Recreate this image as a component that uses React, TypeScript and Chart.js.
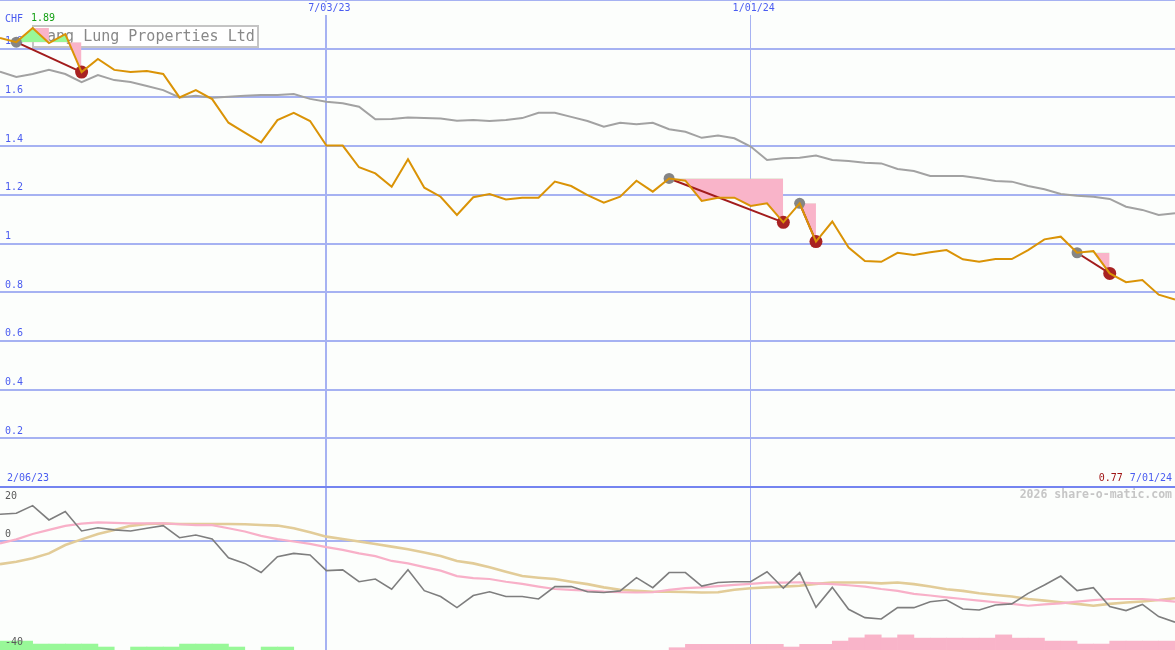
import React, { useEffect, useRef } from "react";
import { Chart, registerables } from "chart.js";

Chart.register(...registerables);

// ---------- data ----------
const PRICE = [
  1.844, 1.827, 1.885, 1.823, 1.86, 1.704, 1.758, 1.713, 1.704, 1.708,
  1.696, 1.6, 1.63, 1.593, 1.496, 1.455, 1.415, 1.507, 1.537, 1.503,
  1.402, 1.402, 1.313, 1.288, 1.233, 1.346, 1.229, 1.192, 1.117, 1.19,
  1.203, 1.181, 1.188, 1.188, 1.254, 1.236, 1.199, 1.168, 1.192, 1.258,
  1.213, 1.267, 1.258, 1.175, 1.188, 1.188, 1.154, 1.165, 1.087, 1.165,
  1.008, 1.09, 0.983, 0.928, 0.925, 0.962, 0.953, 0.964, 0.973, 0.935,
  0.925, 0.936, 0.936, 0.973, 1.017, 1.028, 0.962, 0.969, 0.877, 0.841,
  0.85, 0.79, 0.77,
];

const BENCH = [
  1.706, 1.684, 1.696, 1.713, 1.696, 1.663, 1.692, 1.671, 1.663, 1.647,
  1.63, 1.6, 1.607, 1.599, 1.603, 1.607, 1.61, 1.61, 1.614, 1.594,
  1.582, 1.576, 1.562, 1.51, 1.511, 1.517, 1.515, 1.513, 1.504, 1.507,
  1.503, 1.507, 1.515, 1.537, 1.537, 1.52, 1.503, 1.48, 1.496, 1.49,
  1.496, 1.469, 1.459, 1.434, 1.443, 1.432, 1.398, 1.343, 1.35, 1.352,
  1.361, 1.343, 1.339, 1.332, 1.329, 1.306, 1.298, 1.277, 1.277, 1.277,
  1.268, 1.257, 1.254, 1.236, 1.223, 1.203, 1.196, 1.192, 1.183, 1.151,
  1.138, 1.117, 1.124,
];

const MOM = [
  9.9, 10.3, 13.1, 7.8, 10.9, 3.7, 4.9, 4.1, 3.7, 4.7,
  5.7, 1.2, 2.2, 0.7, -6.2, -8.3, -11.7, -5.8, -4.6, -5.2,
  -11.0, -10.7, -15.1, -14.1, -17.9, -10.7, -18.4, -20.6, -24.7, -20.2,
  -18.8, -20.6, -20.6, -21.5, -16.9, -16.9, -18.8, -19.1, -18.5, -13.6,
  -17.3, -11.7, -11.7, -16.7, -15.4, -15.1, -15.1, -11.4, -17.5, -11.7,
  -24.6, -17.2, -25.3, -28.4, -28.9, -24.7, -24.7, -22.5, -21.9, -25.2,
  -25.6, -23.7, -23.3, -19.4, -16.3, -13.0, -18.4, -17.3, -24.3, -25.8,
  -23.5, -28.0, -30.1,
];

const MOM_FAST = [
  -0.9, 0.6, 2.6, 4.1, 5.6, 6.4, 6.9, 6.7, 6.5, 6.5,
  6.5, 6.2, 5.9, 5.9, 4.7, 3.5, 1.9, 0.7, -0.2, -1.1,
  -2.3, -3.3, -4.6, -5.6, -7.4, -8.3, -9.7, -11.0, -13.0, -13.8,
  -14.1, -15.1, -15.9, -16.9, -17.8, -18.1, -18.4, -18.8, -19.0, -19.1,
  -19.0, -18.1, -17.5, -17.2, -16.7, -16.3, -15.9, -15.4, -15.4, -15.3,
  -15.7, -16.0, -16.4, -16.9, -17.8, -18.5, -19.6, -20.2, -20.9, -21.5,
  -22.1, -22.7, -23.3, -24.0, -23.5, -23.1, -22.5, -21.9, -21.5, -21.5,
  -21.5, -21.9, -22.5,
];

const MOM_SLOW = [
  -8.6, -7.7, -6.4, -4.6, -1.5, 0.6, 2.6, 4.1, 5.6, 6.3,
  6.5, 6.3, 6.3, 6.3, 6.3, 6.2, 5.9, 5.7, 4.7, 3.2,
  1.6, 0.7, -0.2, -1.1, -2.1, -3.1, -4.3, -5.6, -7.4, -8.3,
  -9.7, -11.4, -13.0, -13.6, -14.1, -15.1, -16.0, -17.2, -18.1, -18.5,
  -18.8, -18.8, -18.9, -19.1, -19.0, -18.1, -17.5, -17.2, -16.9, -16.6,
  -15.9, -15.4, -15.4, -15.4, -15.7, -15.4, -16.0, -16.9, -17.9, -18.5,
  -19.4, -20.0, -20.6, -21.5, -22.1, -22.7, -23.3, -24.0, -23.3, -22.8,
  -22.4, -21.9, -21.2,
];

// weekly bars (bar k spans week k .. k+1)
const GREEN_BARS = [
  3.3, 3.3, 2.2, 2.2, 2.2, 2.2, 1.1, 0, 1.1, 1.1,
  1.1, 2.2, 2.2, 2.2, 1.1, 0, 1.1, 1.1,
];
const PINK_BARS = [
  0, 0, 0, 0, 0, 0, 0, 0, 0, 0,
  0, 0, 0, 0, 0, 0, 0, 0, 0, 0,
  0, 0, 0, 0, 0, 0, 0, 0, 0, 0,
  0, 0, 0, 0, 0, 0, 0, 0, 0, 0,
  0, 0.85, 2.1, 2.1, 2.1, 2.1, 2.1, 2.1, 1.1, 2.1,
  2.1, 3.3, 4.5, 5.6, 4.5, 5.6, 4.4, 4.4, 4.4, 4.4,
  4.4, 5.6, 4.4, 4.4, 3.3, 3.3, 2.2, 2.2, 3.3, 3.3,
  3.3, 3.3,
];

// signal events: [start week, end week]
const EVENTS: [number, number][] = [
  [1, 5],
  [41, 48],
  [49, 50],
  [66, 68],
];
const DRAWDOWN: [number, number] = [2, 3];

const TOP_TICKS = [0, 0.2, 0.4, 0.6, 0.8, 1, 1.2, 1.4, 1.6, 1.8, 2];
const BOTTOM_TICKS = [-40, 0, 20];
const BOTTOM_MIN = -40.4;
const BOTTOM_MAX = 20;
const X_MARKS = [20, 46];
const X_MARK_LABELS = ["7/03/23", "1/01/24"];
const X_MAX = 72;
const START_LABEL = "2/06/23";
const END_LABEL = "7/01/24";
const LAST_PRICE = "0.77";
const HIGH_LABEL = "1.89";
const CURRENCY = "CHF";
const TITLE = "Hang Lung Properties Ltd";
const WATERMARK = "2026 share-o-matic.com";

// ---------- styles ----------
const W = 1175;
const H = 650;
const BG = "#fcfefc";
const GRID = "#a6b2f2";
const SEP = "#7484f0";
const BLUE_TEXT = "#4a5cf0";
const ORANGE = "#da9306";
const BENCH_GRAY = "#a2a2a2";
const TREND_RED = "#a21c1c";
const DOT_RED = "#a82222";
const DOT_GRAY = "#858585";
const FILL_GREEN = "#98f898";
const FILL_PINK = "#f9b4c9";
const MOM_GRAY = "#7e7e7e";
const MOM_PINK = "#f8b0c8";
const MOM_TAN = "#e2cc98";
const MONO = "'DejaVu Sans Mono', 'Liberation Mono', monospace";

const range = (a: number, b: number) => {
  const r: number[] = [];
  for (let i = a; i <= b; i++) r.push(i);
  return r;
};
const pts = (arr: number[]) => arr.map((y, i) => ({ x: i, y }));

function buildDatasets() {
  const ds: any[] = [];
  const hidden = { borderColor: "transparent", borderWidth: 0, pointRadius: 0 };

  ds.push({
    type: "line",
    data: pts(PRICE),
    yAxisID: "yTop",
    borderColor: ORANGE,
    borderWidth: 2,
    pointRadius: 0,
    fill: false,
    order: 0,
  });

  EVENTS.forEach(([s, e]) => {
    ds.push({
      type: "line",
      data: [
        { x: s, y: PRICE[s] },
        { x: e, y: PRICE[e] },
      ],
      yAxisID: "yTop",
      borderColor: TREND_RED,
      borderWidth: 2,
      pointRadius: [5.5, 6.5],
      pointBackgroundColor: [DOT_GRAY, DOT_RED],
      pointBorderWidth: 0,
      fill: false,
      order: 1,
    });
  });

  EVENTS.forEach(([s, e]) => {
    const baseIdx = ds.length;
    ds.push({
      type: "line",
      data: range(s, e).map((i) => ({ x: i, y: PRICE[s] })),
      yAxisID: "yTop",
      ...hidden,
      fill: false,
      order: 3,
    });
    ds.push({
      type: "line",
      data: range(s, e).map((i) => ({ x: i, y: PRICE[i] })),
      yAxisID: "yTop",
      ...hidden,
      fill: { target: baseIdx, above: FILL_GREEN, below: FILL_PINK },
      order: 3,
    });
  });

  {
    const [a, b] = DRAWDOWN;
    const segIdx = ds.length;
    ds.push({
      type: "line",
      data: range(a, b).map((i) => ({ x: i, y: PRICE[i] })),
      yAxisID: "yTop",
      ...hidden,
      fill: false,
      order: 4,
    });
    ds.push({
      type: "line",
      data: range(a, b).map((i) => ({ x: i, y: PRICE[a] })),
      yAxisID: "yTop",
      ...hidden,
      fill: { target: segIdx, above: FILL_PINK, below: FILL_PINK },
      order: 4,
    });
  }

  ds.push({
    type: "line",
    data: pts(BENCH),
    yAxisID: "yTop",
    borderColor: BENCH_GRAY,
    borderWidth: 2,
    pointRadius: 0,
    fill: false,
    order: 6,
  });

  ds.push({
    type: "line",
    data: pts(MOM),
    yAxisID: "yBot",
    borderColor: MOM_GRAY,
    borderWidth: 1.6,
    pointRadius: 0,
    fill: false,
    order: 7,
  });
  ds.push({
    type: "line",
    data: pts(MOM_FAST),
    yAxisID: "yBot",
    borderColor: MOM_PINK,
    borderWidth: 2.2,
    pointRadius: 0,
    fill: false,
    order: 8,
  });
  ds.push({
    type: "line",
    data: pts(MOM_SLOW),
    yAxisID: "yBot",
    borderColor: MOM_TAN,
    borderWidth: 2.6,
    pointRadius: 0,
    fill: false,
    order: 9,
  });

  const bars = (arr: number[], color: string) => ({
    type: "bar",
    data: arr
      .map((v, k) => ({ x: k + 0.5, y: [BOTTOM_MIN, BOTTOM_MIN + v] as [number, number], v }))
      .filter((p) => p.v > 0),
    yAxisID: "yBot",
    backgroundColor: color,
    borderWidth: 0,
    grouped: false,
    barPercentage: 1,
    categoryPercentage: 1,
    order: 10,
  });
  ds.push(bars(GREEN_BARS, FILL_GREEN));
  ds.push(bars(PINK_BARS, FILL_PINK));
  return ds;
}

const flatten = (s: any) => {
  s.width = 0;
  s.paddingTop = 0;
  s.paddingBottom = 0;
  s.paddingLeft = 0;
  s.paddingRight = 0;
};

const decor = {
  id: "decor",
  beforeDraw(chart: any) {
    const { ctx } = chart;
    ctx.save();
    ctx.fillStyle = BG;
    ctx.fillRect(0, 0, chart.width, chart.height);
    ctx.restore();
  },
  beforeDatasetsDraw(chart: any) {
    const { ctx } = chart;
    ctx.save();
    ctx.fillStyle = "#ffffff";
    ctx.fillRect(33, 26, 225, 21);
    ctx.strokeStyle = "#c4c4c4";
    ctx.lineWidth = 2;
    ctx.strokeRect(33, 26, 225, 21);
    ctx.fillStyle = "#888888";
    ctx.font = `15px ${MONO}`;
    ctx.textBaseline = "alphabetic";
    ctx.textAlign = "left";
    ctx.fillText(TITLE, 38, 40.5);
    ctx.restore();
  },
  afterDraw(chart: any) {
    const { ctx } = chart;
    const xs = chart.scales.x;
    const yb = chart.scales.yBot;
    ctx.save();
    ctx.font = `10px ${MONO}`;
    ctx.textBaseline = "middle";

    X_MARKS.forEach((v, i) => {
      const px = xs.getPixelForValue(v) + 3;
      const txt = X_MARK_LABELS[i];
      const w = ctx.measureText(txt).width;
      ctx.fillStyle = BG;
      ctx.fillRect(px - w / 2 - 3, 2, w + 6, 13);
      ctx.fillStyle = BLUE_TEXT;
      ctx.textAlign = "center";
      ctx.fillText(txt, px, 8.5);
    });

    ctx.textAlign = "left";
    ctx.fillStyle = BLUE_TEXT;
    ctx.fillText(CURRENCY, 5, 19.5);
    ctx.fillStyle = "#14a014";
    ctx.fillText(HIGH_LABEL, 31, 18.5);

    ctx.fillStyle = BLUE_TEXT;
    ctx.fillText(START_LABEL, 7, 478.5);
    ctx.textAlign = "right";
    ctx.fillText(END_LABEL, 1172, 478.5);
    const endW = ctx.measureText(END_LABEL).width;
    ctx.fillStyle = "#a01414";
    ctx.fillText(LAST_PRICE, 1172 - endW - 7, 478.5);

    ctx.font = `bold 11.5px ${MONO}`;
    ctx.fillStyle = "#c6c6c6";
    ctx.fillText(WATERMARK, 1172, 495.5);

    ctx.font = `10px ${MONO}`;
    ctx.textAlign = "left";
    ctx.fillStyle = "#5a5a5a";
    BOTTOM_TICKS.forEach((v) => {
      const py = yb.getPixelForValue(v);
      const off = v === BOTTOM_MAX ? 9 : -6.5;
      ctx.fillText(String(v), 5, py + off);
    });
    ctx.restore();
  },
};

export default function App() {
  const ref = useRef<HTMLCanvasElement>(null);
  useEffect(() => {
    const canvas = ref.current;
    if (!canvas) return;
    const chart = new Chart(canvas, {
      type: "line",
      data: { datasets: buildDatasets() },
      options: {
        animation: false,
        responsive: false,
        events: [],
        layout: { padding: 0, autoPadding: false },
        plugins: {
          legend: { display: false },
          tooltip: { enabled: false },
          title: { display: false },
        },
        scales: {
          x: {
            type: "linear",
            min: 0,
            max: X_MAX,
            offset: false,
            afterBuildTicks: (s: any) => {
              s.ticks = X_MARKS.map((v) => ({ value: v }));
            },
            afterFit: (s: any) => {
              s.height = 0;
              s.paddingLeft = 0;
              s.paddingRight = 0;
            },
            grid: {
              offset: false,
              color: GRID,
              lineWidth: (c: any) => (c.index === 0 ? 2 : 1),
              drawTicks: false,
            },
            border: { display: false },
            ticks: { display: false },
          },
          yBot: {
            type: "linear",
            position: "left",
            stack: "main",
            stackWeight: 163,
            weight: 1,
            min: BOTTOM_MIN,
            max: BOTTOM_MAX,
            beginAtZero: false,
            afterBuildTicks: (s: any) => {
              s.ticks = BOTTOM_TICKS.map((v) => ({ value: v }));
            },
            afterFit: flatten,
            grid: {
              color: (c: any) => (c.tick && c.tick.value === 0 ? GRID : "transparent"),
              lineWidth: 2,
              drawTicks: false,
            },
            border: { display: false },
            ticks: { display: false },
          },
          yTop: {
            type: "linear",
            position: "left",
            stack: "main",
            stackWeight: 487,
            weight: 2,
            min: 0,
            max: 2,
            afterBuildTicks: (s: any) => {
              s.ticks = TOP_TICKS.map((v) => ({ value: v }));
            },
            afterFit: flatten,
            grid: {
              color: (c: any) => (c.tick && c.tick.value === 0 ? SEP : GRID),
              lineWidth: 2,
              drawTicks: false,
            },
            border: { display: false },
            ticks: {
              mirror: true,
              padding: 5,
              labelOffset: -7,
              color: BLUE_TEXT,
              font: { family: MONO, size: 10 },
              callback: (_v: any, i: number) => {
                const v = TOP_TICKS[i];
                return v === 0 || v === 2 ? "" : String(v);
              },
            },
          },
        },
      } as any,
      plugins: [decor],
    });
    return () => chart.destroy();
  }, []);
  return (
    <div style={{ position: "absolute", left: 0, top: 0, width: W, height: H }}>
      <canvas ref={ref} width={W} height={H} style={{ display: "block" }} />
    </div>
  );
}
